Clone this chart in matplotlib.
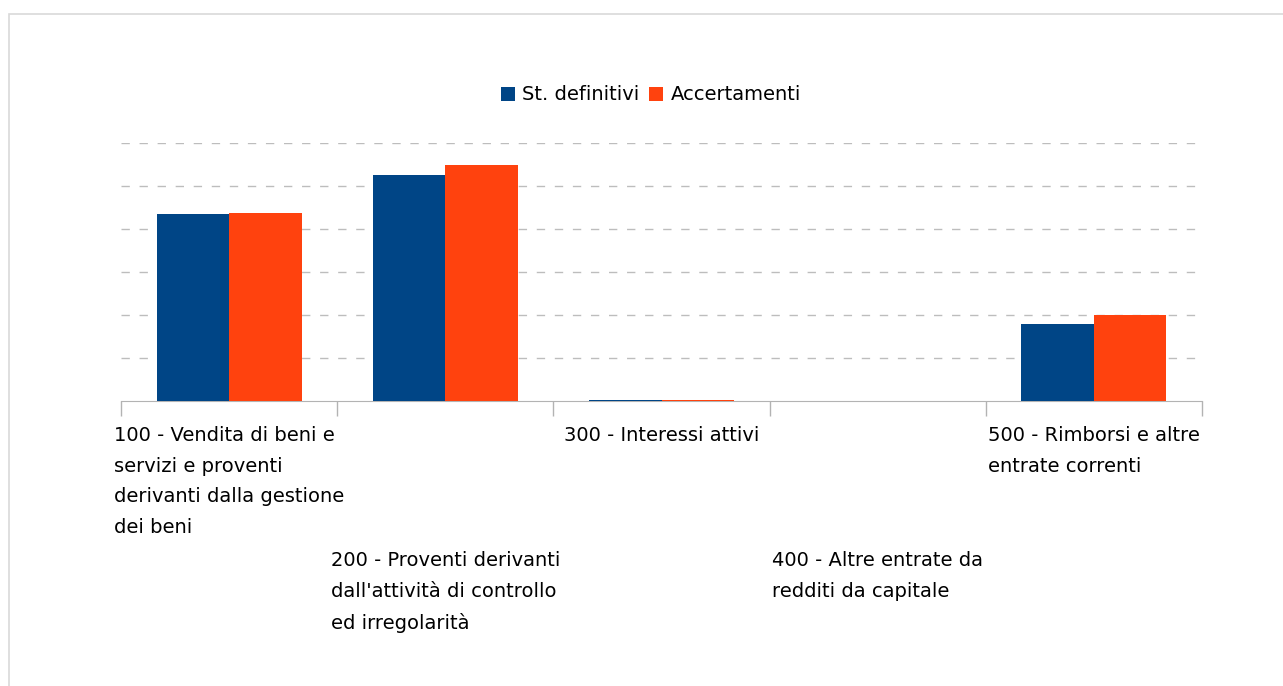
import numpy as np
import matplotlib.pyplot as plt
import matplotlib.transforms as mtransforms
from matplotlib.patches import Rectangle

# categories and values (in grid units)
categories = [
    "100 - Vendita di beni e\nservizi e proventi\nderivanti dalla gestione\ndei beni",
    "200 - Proventi derivanti\ndall'attività di controllo\ned irregolarità",
    "300 - Interessi attivi",
    "400 - Altre entrate da\nredditi da capitale",
    "500 - Rimborsi e altre\nentrate correnti",
]
st_definitivi = [4.35, 5.26, 0.02, 0.0, 1.80]
accertamenti = [4.37, 5.49, 0.02, 0.0, 2.00]
series_names = ["St. definitivi", "Accertamenti"]
colors = ["#004586", "#ff420e"]

fig = plt.figure(figsize=(12.83, 6.86), dpi=100)
ax = fig.add_axes([121 / 1283, 1 - 401 / 686, (1202 - 121) / 1283, (401 - 143) / 686])

# outer frame
fig.patches.append(Rectangle((9 / 1283, -0.1), 1.2, 1 - 14 / 686 + 0.1,
                             transform=fig.transFigure, fill=False,
                             edgecolor="#d9d9d9", linewidth=1.2))

x = np.arange(len(categories))
w = 0.335
ax.bar(x - w / 2, st_definitivi, w, color=colors[0], label=series_names[0], zorder=3)
ax.bar(x + w / 2, accertamenti, w, color=colors[1], label=series_names[1], zorder=3)

ax.set_xlim(-0.5, len(categories) - 0.5)
ax.set_ylim(0, 6)
ax.set_yticks(np.arange(1, 7))
ax.yaxis.grid(True, color="#bdbdbd", linestyle=(0, (6, 7)), linewidth=1)
ax.tick_params(axis="y", left=False, labelleft=False)
ax.set_xticks(np.arange(-0.5, len(categories)))
ax.set_xticklabels([])
ax.tick_params(axis="x", direction="out", length=11, color="#b3b3b3", width=1)
for s in ["top", "right", "left"]:
    ax.spines[s].set_visible(False)
ax.spines["bottom"].set_color("#b3b3b3")

# staggered category labels
trans = mtransforms.blended_transform_factory(ax.transData, fig.transFigure)
for i, lab in enumerate(categories):
    ytop = 426 if i % 2 == 0 else 551
    ax.text(i, 1 - ytop / 686, lab, transform=trans,
            ha="center", va="top", multialignment="left", fontsize=14,
            linespacing=1.78, color="#000000")

fig.legend(loc="center", bbox_to_anchor=(651 / 1283, 1 - 95 / 686), ncol=2,
           frameon=False, fontsize=14, handlelength=0.7, handleheight=0.7,
           handletextpad=0.4, columnspacing=0.5)

fig.savefig("out.png", dpi=100)
